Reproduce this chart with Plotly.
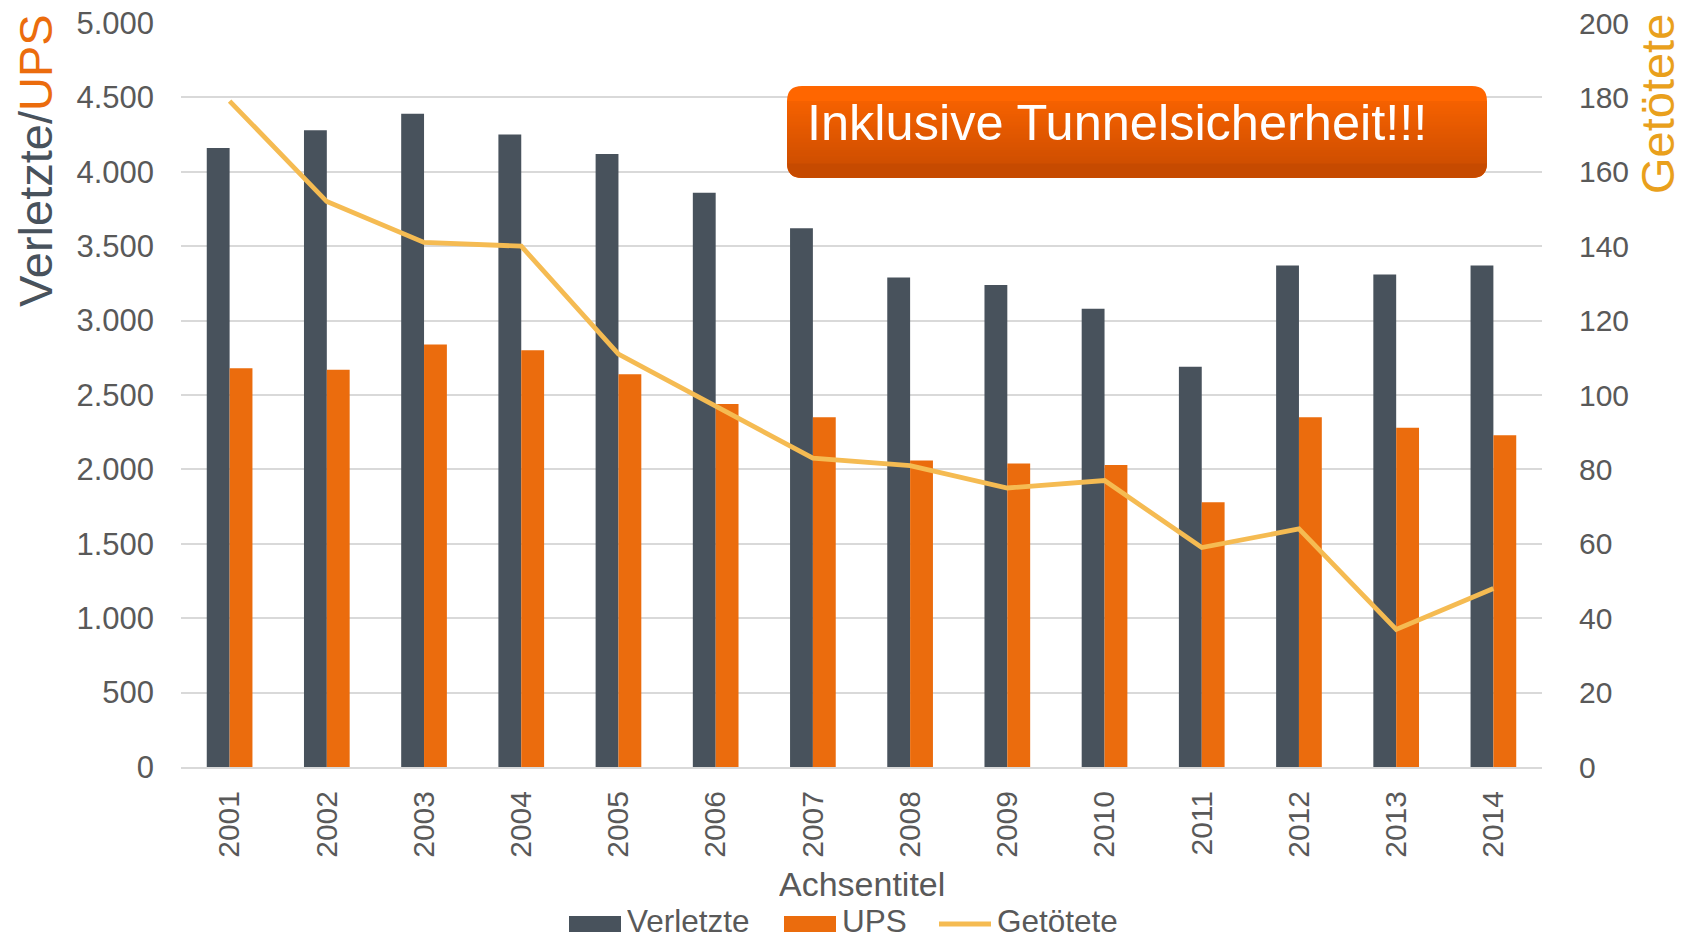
import plotly.graph_objects as go

years = ["2001", "2002", "2003", "2004", "2005", "2006", "2007",
         "2008", "2009", "2010", "2011", "2012", "2013", "2014"]
verletzte = [4160, 4280, 4390, 4250, 4120, 3860, 3620, 3290, 3240, 3080, 2690, 3370, 3310, 3370]
ups = [2680, 2670, 2840, 2800, 2640, 2440, 2350, 2060, 2040, 2030, 1780, 2350, 2280, 2230]
getoetete = [179, 152, 141, 140, 111, 97, 83, 81, 75, 77, 59, 64, 37, 48]
series_names = ["Verletzte", "UPS", "Getötete"]

W, H = 1688, 940
L, R, T, B = 181, 1542, 23, 767  # plot area in pixels


def px(x):
    return (x - L) / (R - L)


def py(y):
    return (B - y) / (B - T)


DARK = "#48525C"
ORANGE = "#EB6C0D"
GOLD = "#F5BB52"
GOLD_T = "#E9A01C"
TXT = "#595959"
FONT = "Liberation Sans, Arial, sans-serif"

fig = go.Figure()
fig.add_trace(go.Bar(x=years, y=verletzte, name=series_names[0], marker_color=DARK,
                     marker_line_width=0, showlegend=False))
fig.add_trace(go.Bar(x=years, y=ups, name=series_names[1], marker_color=ORANGE,
                     marker_line_width=0, showlegend=False))
fig.add_trace(go.Scatter(x=years, y=getoetete, name=series_names[2], mode="lines",
                         line=dict(color=GOLD, width=4.8), yaxis="y2", showlegend=False))

shapes = []
# gradient rounded box
bx0, bx1, by0, by1 = 787, 1487, 86, 178
r = 15


def rr_path(x0, x1, y0, y1, rad, top=True, bottom=True):
    rx = rad / (R - L)
    ry = rad / (B - T)
    X0, X1, Y0, Y1 = px(x0), px(x1), py(y0), py(y1)  # Y0 top (higher), Y1 bottom
    p = []
    if top:
        p.append(f"M{X0},{Y0 - ry}")
        p.append(f"Q{X0},{Y0} {X0 + rx},{Y0}")
        p.append(f"L{X1 - rx},{Y0}")
        p.append(f"Q{X1},{Y0} {X1},{Y0 - ry}")
    else:
        p.append(f"M{X0},{Y0}")
        p.append(f"L{X1},{Y0}")
    if bottom:
        p.append(f"L{X1},{Y1 + ry}")
        p.append(f"Q{X1},{Y1} {X1 - rx},{Y1}")
        p.append(f"L{X0 + rx},{Y1}")
        p.append(f"Q{X0},{Y1} {X0},{Y1 + ry}")
    else:
        p.append(f"L{X1},{Y1}")
        p.append(f"L{X0},{Y1}")
    p.append("Z")
    return " ".join(p)


def lerp(c0, c1, t):
    return "#" + "".join(f"{int(round(a + (b - a) * t)):02X}" for a, b in zip(c0, c1))


ctop = (0xFF, 0x66, 0x00)
cbot = (0xC6, 0x4A, 0x00)
shapes.append(dict(type="path", xref="paper", yref="paper", path=rr_path(bx0, bx1, by0, by1, r),
                   fillcolor=lerp(ctop, cbot, 0), line=dict(width=0), layer="above"))
shapes.append(dict(type="path", xref="paper", yref="paper",
                   path=rr_path(bx0, bx1, by1 - r - 1, by1, r, top=False),
                   fillcolor=lerp(ctop, cbot, 1), line=dict(width=0), layer="above"))
n = 24
ya, yb = by0 + r, by1 - r
for i in range(n):
    y0 = ya + (yb - ya) * i / n
    y1 = ya + (yb - ya) * (i + 1) / n + 0.6
    t = (y0 - by0 + (yb - ya) / (2 * n)) / (by1 - by0)
    shapes.append(dict(type="rect", xref="paper", yref="paper",
                       x0=px(bx0), x1=px(bx1), y0=py(y0), y1=py(y1),
                       fillcolor=lerp(ctop, cbot, t), line=dict(width=0), layer="above"))

# legend (drawn as swatches + labels below the axis title)
sw_y = 924
txt_y = 921
shapes.append(dict(type="rect", xref="paper", yref="paper", x0=px(569), x1=px(621),
                   y0=py(sw_y - 8), y1=py(sw_y + 8), fillcolor=DARK, line=dict(width=0)))
shapes.append(dict(type="rect", xref="paper", yref="paper", x0=px(784), x1=px(836),
                   y0=py(sw_y - 8), y1=py(sw_y + 8), fillcolor=ORANGE, line=dict(width=0)))
shapes.append(dict(type="line", xref="paper", yref="paper", x0=px(939), x1=px(991),
                   y0=py(sw_y), y1=py(sw_y), line=dict(color=GOLD, width=5)))

annotations = [
    dict(text="Inklusive Tunnelsicherheit!!!", xref="paper", yref="paper",
         x=px(1117), y=py(122), showarrow=False, xanchor="center", yanchor="middle",
         font=dict(family=FONT, size=50.5, color="white")),
    dict(text="Verletzte/<span style='color:" + ORANGE + "'>UPS</span>",
         xref="paper", yref="paper", x=px(36), y=py(161), showarrow=False,
         textangle=-90, xanchor="center", yanchor="middle",
         font=dict(family=FONT, size=47, color=DARK)),
    dict(text="Getötete", xref="paper", yref="paper", x=px(1657), y=py(104),
         showarrow=False, textangle=-90, xanchor="center", yanchor="middle",
         font=dict(family=FONT, size=47, color=GOLD_T)),
    dict(text="Achsentitel", xref="paper", yref="paper", x=px(862), y=py(884),
         showarrow=False, xanchor="center", yanchor="middle", height=38,
         font=dict(family=FONT, size=34, color=TXT)),
]
for name, lx in zip(series_names, [625, 840, 995]):
    annotations.append(dict(text=name, xref="paper", yref="paper", x=px(lx), y=py(txt_y),
                            showarrow=False, xanchor="left", yanchor="middle", height=34,
                            font=dict(family=FONT, size=31.5, color=TXT)))

fig.update_layout(
    width=W, height=H, autosize=False,
    margin=dict(l=L, r=W - R, t=T, b=H - B, pad=0, autoexpand=False),
    paper_bgcolor="white", plot_bgcolor="white",
    separators=",.",
    barmode="group", bargap=0.53, bargroupgap=0,
    font=dict(family=FONT, size=31, color=TXT),
    showlegend=False,
    xaxis=dict(type="category", tickangle=-90, showline=True, linecolor="#D9D9D9", linewidth=2,
               showgrid=False, ticks="", ticklabelstandoff=10, automargin=False,
               tickfont=dict(family=FONT, size=30, color=TXT)),
    yaxis=dict(range=[0, 5000], dtick=500, tick0=0, tickformat=",d", showgrid=True,
               gridcolor="#D9D9D9", gridwidth=2, zeroline=False, showline=False, ticks="",
               ticklabelstandoff=26, automargin=False,
               tickfont=dict(family=FONT, size=31, color=TXT)),
    yaxis2=dict(range=[0, 200], dtick=20, tick0=0, overlaying="y", side="right",
                showgrid=False, zeroline=False, showline=False, ticks="",
                ticklabelstandoff=36, automargin=False,
                tickfont=dict(family=FONT, size=30, color=TXT)),
    shapes=shapes,
    annotations=annotations,
)

fig.write_html("out.html", config={"displayModeBar": False},
               post_script="document.body.style.margin='0';document.body.style.padding='0';")
